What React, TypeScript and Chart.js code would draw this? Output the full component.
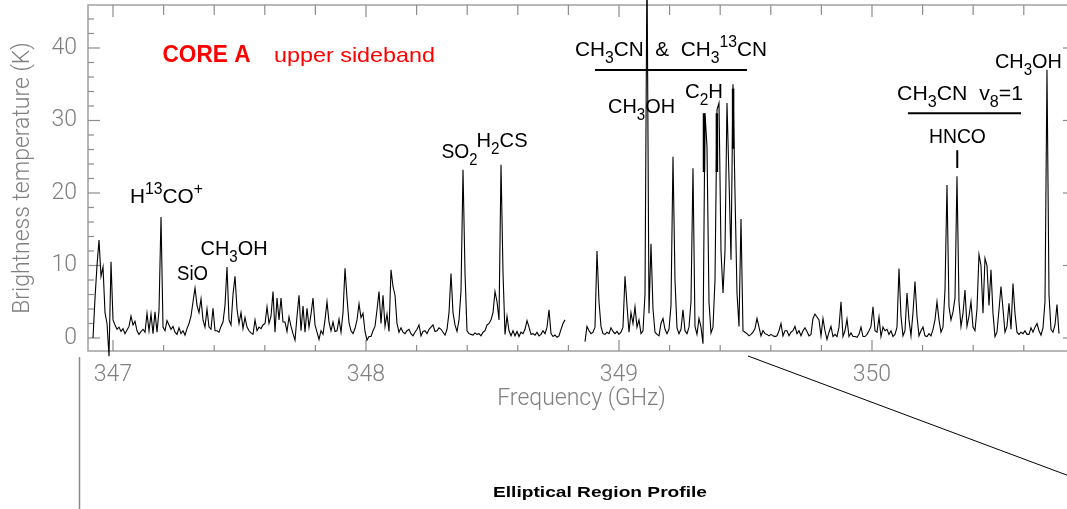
import React, { useEffect, useRef } from 'react';
import { Chart, registerables } from 'chart.js';

Chart.register(...registerables);

// ---------------- DATA ----------------
// Spectrum channels: uniform channel width, two observed bands (gap between them)
const channelWidthGHz = 0.0079051;
const lowBandStartGHz = 346.921;
const highBandStartGHz = 348.8656;

// Brightness temperature (K), low band
const tempsLowA = [
  0.0, 5.5, 10.0, 13.5, 8.5, 9.8, 3.5, 2.0, -2.5, 10.5,
  2.5, 1.8, 1.2, 1.5, 0.9, 1.3, 0.6, 1.1, 1.6, 3.0,
  1.8, 2.3, 1.0, 0.5, 0.9, 1.2, 0.8, 3.4, 1.0, 3.3,
  0.6, 3.6, 0.8, 3.8, 16.7, 1.5, 1.0, 2.4, 1.8, 1.2,
  1.6, 0.8, 0.5, 1.4, 0.6, 1.0, 0.4, 1.3, 2.0, 3.0,
  5.0, 6.9, 4.5, 3.5, 5.4, 2.5, 1.5, 4.0, 1.5, 1.2,
  4.1, 1.0, 1.0, 0.8, 1.6, 2.2, 4.5, 9.8, 2.5, 1.8,
  6.0, 8.5, 4.0, 2.0, 3.5, 1.3, 2.8, 1.5, 1.0, 0.7,
];
const tempsLowB = [
  0.5, 2.5, 1.0, 1.5, 1.3, 1.8, 2.0, 4.3, 2.0, 3.0,
  6.4, 0.8, 5.5, 2.5, 5.5, 2.2, 2.2, 0.9, 2.9, 1.6,
  0.6, -0.3, 3.0, 5.9, 1.0, 4.4, 0.8, 4.1, 1.5, 3.3,
  5.5, 1.8, 0.8, -0.2, 1.0, 0.5, 2.5, 5.0, 2.2, 1.0,
  2.2, 0.9, 1.0, 2.6, 0.8, 3.5, 9.6, 5.5, 2.1, 1.0,
  0.6, 1.3, 2.5, 4.7, 2.8, 3.4, 0.9, -0.3, 0.2, 0.2,
  1.0, 1.6, 3.9, 6.4, 2.0, 5.9, 1.6, 3.3, 0.9, 9.4,
  7.1, 5.9, 2.0, 0.8, 1.4, 0.8, 0.6, 1.0, 1.2, 0.6,
];
const tempsLowC = [
  0.3, 0.8, 1.2, 1.8, 0.3, 0.9, 1.0, 0.6, 1.2, 1.5,
  1.8, 0.9, 1.0, 1.4, 1.2, 0.8, 0.4, 1.2, 3.5, 8.9,
  3.5, 1.8, 0.9, 2.5, 6.5, 23.2, 9.0, 1.0, 0.6, 0.5,
  0.4, 0.7, 0.5, 0.6, 0.3, 0.8, 1.0, 1.8, 2.0, 2.5,
  3.5, 6.4, 5.0, 2.5, 23.9, 9.0, 0.5, 3.0, 1.0, 0.3,
  1.0, 0.3, 0.9, 0.2, 0.8, 0.6, 1.2, 2.4, 1.5, 0.5,
  0.6, 0.4, 0.8, 0.3, 0.5, 1.0, 0.6, 1.5, 3.9, 0.6,
  0.2, 0.4, 0.1, 0.3, 1.2, 2.0, 2.5,
];
// Brightness temperature (K), high band
const tempsHighA = [
  -0.5, 1.6, 1.0, 0.6, 0.8, 1.5, 12.0, 5.0, 1.6, 0.6,
  0.5, 0.8, 0.6, 1.4, 0.9, 0.6, 0.9, 0.5, 0.8, 1.5,
  8.5, 4.5, 0.8, 3.5, 2.0, 4.3, 1.5, 2.5, 0.6, 1.0,
  6.0, 52.0, 3.4, 13.0, 4.0, 0.8, 0.5, 0.3, 2.0, 2.7,
  1.2, 0.6, 1.2, 4.5, 25.0, 8.0, 1.4, 0.6, 1.2, 3.9,
  1.0, 0.6, 1.5, 5.0, 23.4, 1.6, 0.5, 2.7, 1.5, -0.8,
  31.0, 26.4, 5.0, 0.7, 1.5, 8.0, 31.5, 32.4, 12.0, 6.2,
  12.0, 32.4, 22.0, 10.8, 35.0, 20.0, 6.2, 1.6, 16.4, 1.0,
  0.8,
];
const tempsHighB = [
  0.6, 0.3, 0.5, 0.8, 1.3, 2.7, 1.5, 0.3, 1.0, 0.6,
  0.5, 0.3, 0.5, 0.3, 0.2, 0.3, 1.0, 2.0, 0.3, 1.0,
  1.0, 0.3, 0.8, 1.0, 1.6, 0.6, 1.0, 0.3, 1.0, 1.4,
  0.9, 0.3, 0.5, 2.7, 3.3, 2.9, 2.5, 0.3, 2.7, 1.0,
  -0.2, 0.8, 1.6, 0.2, 0.5, 0.2, 1.5, 5.0, 0.2, 1.0,
  2.6, 0.2, 0.7, 0.2, 0.2, 0.1, 0.5, 1.5, 0.2, 0.2,
  0.5, 1.0, 1.6, 4.3, 1.0, 0.8, 2.9, 0.2, 1.5, 1.0,
  1.2, 0.5, 1.0, 0.2, 0.5, 1.5, 9.6,
];
const tempsHighC = [
  3.0, 0.3, 1.0, 6.2, 2.5, 0.3, 3.5, 7.8, 3.0, 0.3,
  1.0, 1.5, 0.3, 0.2, 0.6, 0.3, 1.2, 2.5, 5.0, 2.5,
  0.8, 1.5, 6.6, 21.1, 4.3, 2.5, 3.6, 5.5, 22.3, 5.0,
  1.6, 3.4, 6.6, 1.6, 3.0, 5.0, 1.5, 1.0, 4.0, 11.5,
  10.0, 3.4, 11.0, 10.0, 4.5, 9.4, 3.4, 0.2, 0.8, 3.9,
  7.1, 4.0, 0.8, 1.6, 4.8, 1.2, 7.5, 3.4, 0.8, 0.5,
  0.8, 0.6, 1.0, 0.5, 0.5, 1.4, 0.8, 1.5, 2.0, 1.0,
  0.4, 1.4, 5.0, 37.0, 6.0, 1.2, 0.8, 1.8, 4.6, 0.6,
];

// Axis ticks
const freqTickLabels = [347, 348, 349, 350];
const tempTickLabels = [0, 10, 20, 30, 40];
const freqMinorStep = 0.2;
const tempMinorStep = 2;

// Line identifications (frequency / temperature of label anchor: left, baseline)
const lineLabels = [
  { text: 'H^{13}CO^+', freq: 347.067, temp: 18.6, width: 73 },
  { text: 'SiO', freq: 347.253, temp: 8.0, width: 31 },
  { text: 'CH_3OH', freq: 347.346, temp: 11.45, width: 67 },
  { text: 'SO_2', freq: 348.298, temp: 24.8, width: 36 },
  { text: 'H_2CS', freq: 348.437, temp: 26.3, width: 51 },
  { text: 'CH_3CN  &  CH_3^{13}CN', freq: 348.826, temp: 38.9, width: 192 },
  { text: 'CH_3OH', freq: 348.957, temp: 31.0, width: 67 },
  { text: 'C_2H', freq: 349.261, temp: 33.1, width: 38 },
  { text: 'CH_3CN  v_8=1', freq: 350.099, temp: 32.8, width: 126 },
  { text: 'HNCO', freq: 350.225, temp: 26.9, width: 57 },
  { text: 'CH_3OH', freq: 350.486, temp: 37.2, width: 67 },
];
const bracketLines = [
  { from: 348.905, to: 349.506, temp: 36.97 },
  { from: 350.142, to: 350.589, temp: 31.0 },
];
const lineMarkers = [
  { freq: 350.337, top: 25.9, bottom: 23.45, w: 2 },
  { freq: 349.336, top: 31.0, bottom: 22.9, w: 2.5 },
  { freq: 349.387, top: 31.0, bottom: 22.9, w: 2.5 },
  { freq: 349.451, top: 34.4, bottom: 26.1, w: 2.5 },
];
const panelTitle = [
  { text: 'CORE A', freq: 347.1957, temp: 38.1, width: 88, size: 23, bold: true },
  { text: 'upper sideband', freq: 347.6364, temp: 38.1, width: 161, size: 21, bold: false },
];

// ---------------- HELPERS ----------------
const lowBand = [...tempsLowA, ...tempsLowB, ...tempsLowC].map((t, i) => ({
  x: lowBandStartGHz + i * channelWidthGHz,
  y: t,
}));
const highBand = [...tempsHighA, ...tempsHighB, ...tempsHighC].map((t, i) => ({
  x: highBandStartGHz + i * channelWidthGHz,
  y: t,
}));

type Part = { t: string; k: 'n' | 'sub' | 'sup' };
function parseRich(s: string): Part[] {
  const parts: Part[] = [];
  let buf = '';
  let i = 0;
  while (i < s.length) {
    const c = s[i];
    if (c === '_' || c === '^') {
      if (buf) { parts.push({ t: buf, k: 'n' }); buf = ''; }
      let content = '';
      if (s[i + 1] === '{') {
        const j = s.indexOf('}', i + 2);
        content = s.slice(i + 2, j);
        i = j + 1;
      } else {
        content = s[i + 1];
        i += 2;
      }
      parts.push({ t: content, k: c === '_' ? 'sub' : 'sup' });
    } else {
      buf += c;
      i++;
    }
  }
  if (buf) parts.push({ t: buf, k: 'n' });
  return parts;
}

const ANN_FAMILY = '"Liberation Sans", Arial, Helvetica, sans-serif';

function drawRich(
  ctx: CanvasRenderingContext2D,
  s: string,
  x: number,
  y: number,
  size: number,
  width: number,
  color: string,
  bold = false
) {
  const parts = parseRich(s);
  const small = size * 0.76;
  const weight = bold ? 'bold' : 'normal';
  const fontFor = (k: string) => `${weight} ${k === 'n' ? size : small}px ${ANN_FAMILY}`;
  let total = 0;
  const widths = parts.map((p) => {
    ctx.font = fontFor(p.k);
    const w = ctx.measureText(p.t).width;
    total += w;
    return w;
  });
  ctx.save();
  ctx.translate(x, y);
  if (width && total > 0) ctx.scale(width / total, 1);
  ctx.fillStyle = color;
  ctx.textBaseline = 'alphabetic';
  ctx.textAlign = 'left';
  let cx = 0;
  parts.forEach((p, i) => {
    ctx.font = fontFor(p.k);
    const dy = p.k === 'sub' ? size * 0.34 : p.k === 'sup' ? -size * 0.45 : 0;
    ctx.fillText(p.t, cx, dy);
    cx += widths[i];
  });
  ctx.restore();
}

const framePlugin = {
  id: 'idlFrame',
  beforeDatasetsDraw(chart: any) {
    const { ctx, chartArea } = chart;
    const xs = chart.scales.x;
    const ys = chart.scales.y;
    const { left, right, top, bottom } = chartArea;
    ctx.save();
    ctx.strokeStyle = '#a0a0a0';
    ctx.lineWidth = 1.5;
    ctx.strokeRect(left, top, right - left, bottom - top);
    ctx.lineWidth = 1.2;
    ctx.strokeStyle = '#8c8c8c';
    // y ticks (inward)
    for (let k = 0; k * tempMinorStep <= ys.max; k++) {
      const v = k * tempMinorStep;
      const py = ys.getPixelForValue(v);
      const major = tempTickLabels.includes(v);
      const len = major ? 12 : 6;
      ctx.beginPath();
      ctx.moveTo(left, py);
      ctx.lineTo(left + len, py);
      ctx.stroke();
      if (major) {
        ctx.beginPath();
        ctx.moveTo(right, py);
        ctx.lineTo(right - len, py);
        ctx.stroke();
      }
    }
    // x ticks (inward), top and bottom
    const first = freqTickLabels[0];
    for (let k = 0; first + k * freqMinorStep <= xs.max; k++) {
      const f = first + k * freqMinorStep;
      const px = xs.getPixelForValue(f);
      const major = freqTickLabels.some((t) => Math.abs(t - f) < 1e-6);
      ctx.beginPath();
      ctx.moveTo(px, bottom);
      ctx.lineTo(px, bottom - (major ? 11 : 6));
      ctx.stroke();
      ctx.beginPath();
      ctx.moveTo(px, top);
      ctx.lineTo(px, top + (major ? 12 : 10));
      ctx.stroke();
    }
    ctx.restore();
  },
  afterDatasetsDraw(chart: any) {
    const { ctx } = chart;
    const xs = chart.scales.x;
    const ys = chart.scales.y;
    ctx.save();
    // bracket lines
    ctx.strokeStyle = '#000';
    ctx.lineWidth = 2;
    bracketLines.forEach((b) => {
      const y = ys.getPixelForValue(b.temp);
      ctx.beginPath();
      ctx.moveTo(xs.getPixelForValue(b.from), y);
      ctx.lineTo(xs.getPixelForValue(b.to), y);
      ctx.stroke();
    });
    lineMarkers.forEach((m) => {
      const x = xs.getPixelForValue(m.freq);
      ctx.lineWidth = m.w;
      ctx.beginPath();
      ctx.moveTo(x, ys.getPixelForValue(m.top));
      ctx.lineTo(x, ys.getPixelForValue(m.bottom));
      ctx.stroke();
    });
    lineLabels.forEach((l) => {
      drawRich(ctx, l.text, xs.getPixelForValue(l.freq), ys.getPixelForValue(l.temp), 21, l.width, '#000');
    });
    panelTitle.forEach((l) => {
      drawRich(ctx, l.text, xs.getPixelForValue(l.freq), ys.getPixelForValue(l.temp), l.size, l.width, '#ff0000', l.bold);
    });
    ctx.restore();
  },
  afterDraw(chart: any) {
    const { ctx } = chart;
    ctx.save();
    // decorations of the surrounding figure panel
    ctx.strokeStyle = '#8a8a8a';
    ctx.lineWidth = 1.5;
    ctx.beginPath();
    ctx.moveTo(79.5, 357);
    ctx.lineTo(79.5, 509);
    ctx.stroke();
    ctx.strokeStyle = '#000';
    ctx.lineWidth = 1;
    ctx.beginPath();
    ctx.moveTo(748, 356);
    ctx.lineTo(1080, 480);
    ctx.stroke();
    ctx.restore();
    drawRich(ctx, 'Elliptical Region Profile', 493, 497, 15, 214, '#000', true);
  },
};

const AXIS_FONT = { family: 'Roboto, "DejaVu Sans", sans-serif', size: 23, weight: 300 as any };
const AXIS_COLOR = '#7f7f7f';

const noPadding = (s: any) => {
  s.paddingTop = 0;
  s.paddingBottom = 0;
  s.paddingLeft = 0;
  s.paddingRight = 0;
};

export default function App() {
  const ref = useRef<HTMLCanvasElement>(null);
  useEffect(() => {
    const canvas = ref.current;
    if (!canvas) return;
    const chart = new Chart(canvas, {
      type: 'line',
      data: {
        datasets: [
          {
            data: lowBand,
            borderColor: '#000',
            borderWidth: 1.1,
            pointRadius: 0,
            tension: 0,
            fill: false,
            clip: { left: 2, top: 8, right: 2, bottom: 8 } as any,
          },
          {
            data: highBand,
            borderColor: '#000',
            borderWidth: 1.1,
            pointRadius: 0,
            tension: 0,
            fill: false,
            clip: { left: 2, top: 8, right: 2, bottom: 8 } as any,
          },
        ],
      },
      options: {
        responsive: false,
        animation: false,
        devicePixelRatio: 1,
        events: [],
        layout: { padding: { top: 5, right: 10, left: 0, bottom: 0 } },
        plugins: { legend: { display: false }, tooltip: { enabled: false } },
        scales: {
          x: {
            type: 'linear',
            min: 346.9012,
            max: 350.8024,
            afterFit: (s: any) => { s.height = 158; noPadding(s); },
            grid: { display: false, drawTicks: false },
            border: { display: false },
            ticks: {
              stepSize: 1,
              includeBounds: false,
              autoSkip: false,
              maxRotation: 0,
              padding: 10,
              color: AXIS_COLOR,
              font: AXIS_FONT,
              callback: (v: any) => (freqTickLabels.includes(Number(v)) ? String(v) : ''),
            },
            title: {
              display: true,
              text: 'Frequency (GHz)',
              color: AXIS_COLOR,
              font: AXIS_FONT,
              padding: { top: 0, bottom: 96 },
            },
          },
          y: {
            type: 'linear',
            min: -1.793,
            max: 45.93,
            afterFit: (s: any) => { s.width = 88; noPadding(s); },
            grid: { display: false, drawTicks: false },
            border: { display: false },
            ticks: {
              stepSize: 10,
              includeBounds: false,
              autoSkip: false,
              padding: 11,
              color: AXIS_COLOR,
              font: AXIS_FONT,
              callback: (v: any) => (tempTickLabels.includes(Number(v)) ? String(v) : ''),
            },
            title: {
              display: true,
              text: 'Brightness temperature (K)',
              color: AXIS_COLOR,
              font: AXIS_FONT,
              padding: { top: 9, bottom: 0 },
            },
          },
        },
      },
      plugins: [framePlugin],
    });
    return () => chart.destroy();
  }, []);

  return (
    <div
      style={{
        position: 'absolute',
        left: 0,
        top: 0,
        width: 1067,
        height: 509,
        overflow: 'hidden',
        background: '#fff',
      }}
    >
      <canvas ref={ref} width={1085} height={509} style={{ display: 'block', width: 1085, height: 509 }} />
    </div>
  );
}
